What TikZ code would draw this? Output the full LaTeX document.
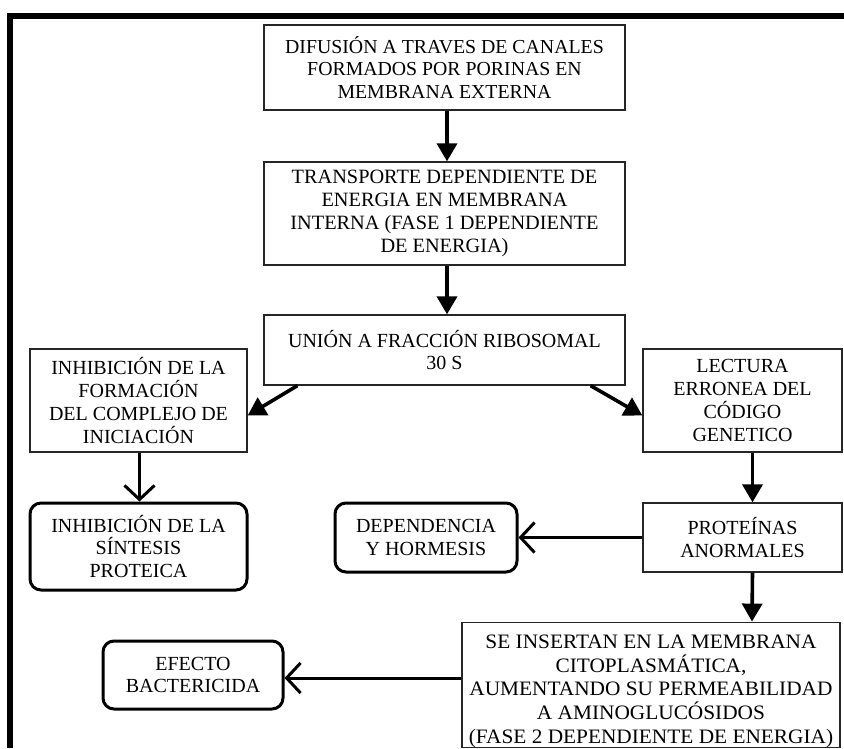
\documentclass[tikz,border=0pt]{standalone}
\usepackage{fontspec}
\setmainfont{Liberation Serif}
\newfontfamily\widefont[FakeStretch=1.04]{Liberation Serif}
\usetikzlibrary{arrows.meta,calc}
\begin{document}
\begin{tikzpicture}[x=1pt,y=-1pt,
  box/.style={draw=black!85,line width=1.3pt,fill=white,align=center,inner sep=0pt,
    font=\fontsize{20}{22.8}\selectfont},
  rbox/.style={box,line width=3pt,draw=black,rounded corners=11pt},
  farr/.style={line width=3.6pt,-{Triangle[length=18pt,width=20pt]}},
  varr/.style={line width=3pt,-{Straight Barb[length=14pt,width=30pt]}}]
\useasboundingbox (0,0) rectangle (844,748);
\fill[white] (0,0) rectangle (844,748);
\draw[line width=6pt] (10,748) -- (10,16) -- (847,16);
\node[box,minimum width=361pt,minimum height=85pt,font=\fontsize{19.8}{22.5}\selectfont] (b1) at (444.5,67.5)
  {DIFUSIÓN A TRAVES DE CANALES\\FORMADOS POR PORINAS EN\\MEMBRANA EXTERNA};
\node[box,minimum width=361pt,minimum height=103pt,font=\fontsize{20.3}{22.8}\selectfont] (b2) at (444.5,213.5)
  {TRANSPORTE DEPENDIENTE DE\\ENERGIA EN MEMBRANA\\INTERNA (FASE 1 DEPENDIENTE\\DE ENERGIA)};
\node[box,minimum width=361pt,minimum height=70pt] (b3) at (444.5,350)
  {UNIÓN A FRACCIÓN RIBOSOMAL\\30 S};
\node[box,minimum width=217pt,minimum height=103pt] (b4) at (138.5,400.5)
  {INHIBICIÓN DE LA\\FORMACIÓN\\DEL COMPLEJO DE\\INICIACIÓN};
\node[box,minimum width=199pt,minimum height=103pt] (b5) at (742.5,400.5)
  {LECTURA\\ERRONEA DEL\\CÓDIGO\\GENETICO};
\node[rbox,minimum width=217pt,minimum height=87pt] (b6) at (138.5,546.5)
  {INHIBICIÓN DE LA\\SÍNTESIS\\PROTEICA};
\node[box,minimum width=199pt,minimum height=69pt] (b7) at (742.5,537.5)
  {PROTEÍNAS\\ANORMALES};
\node[rbox,minimum width=182pt,minimum height=69pt] (b8) at (426,537.5)
  {DEPENDENCIA\\Y HORMESIS};
\node[box,minimum width=378pt,minimum height=122pt,font=\widefont\fontsize{20.5}{23.8}\selectfont] (b9) at (651,685)
  {\rule{0pt}{26pt}SE INSERTAN EN LA MEMBRANA\\CITOPLASMÁTICA,\\AUMENTANDO SU PERMEABILIDAD\\A AMINOGLUCÓSIDOS\\(FASE 2 DEPENDIENTE DE ENERGIA)};
\node[rbox,minimum width=180pt,minimum height=68pt] (b10) at (193,675)
  {EFECTO\\BACTERICIDA};
\draw[farr] ([xshift=2.5pt]b1.south) -- ([xshift=2.5pt]b2.north);
\draw[farr] ([xshift=2.5pt]b2.south) -- ([xshift=2.5pt]b3.north);
\draw[farr] ([xshift=34pt]b3.south west) -- ([yshift=-15pt]b4.east);
\draw[farr] ([xshift=-35pt]b3.south east) -- ([yshift=-15pt]b5.west);
\draw[varr] ([xshift=1pt]b4.south) -- ([xshift=1pt]b6.north);
\draw[farr] ([xshift=10pt]b5.south) -- ([xshift=10pt]b7.north);
\draw[varr] (b7.west) -- (b8.east);
\draw[farr] ([xshift=10pt]b7.south) -- ([xshift=101pt]b9.north);
\draw[varr] ([yshift=7pt]b9.west) -- ([yshift=-3pt]b10.east);
\end{tikzpicture}
\end{document}
